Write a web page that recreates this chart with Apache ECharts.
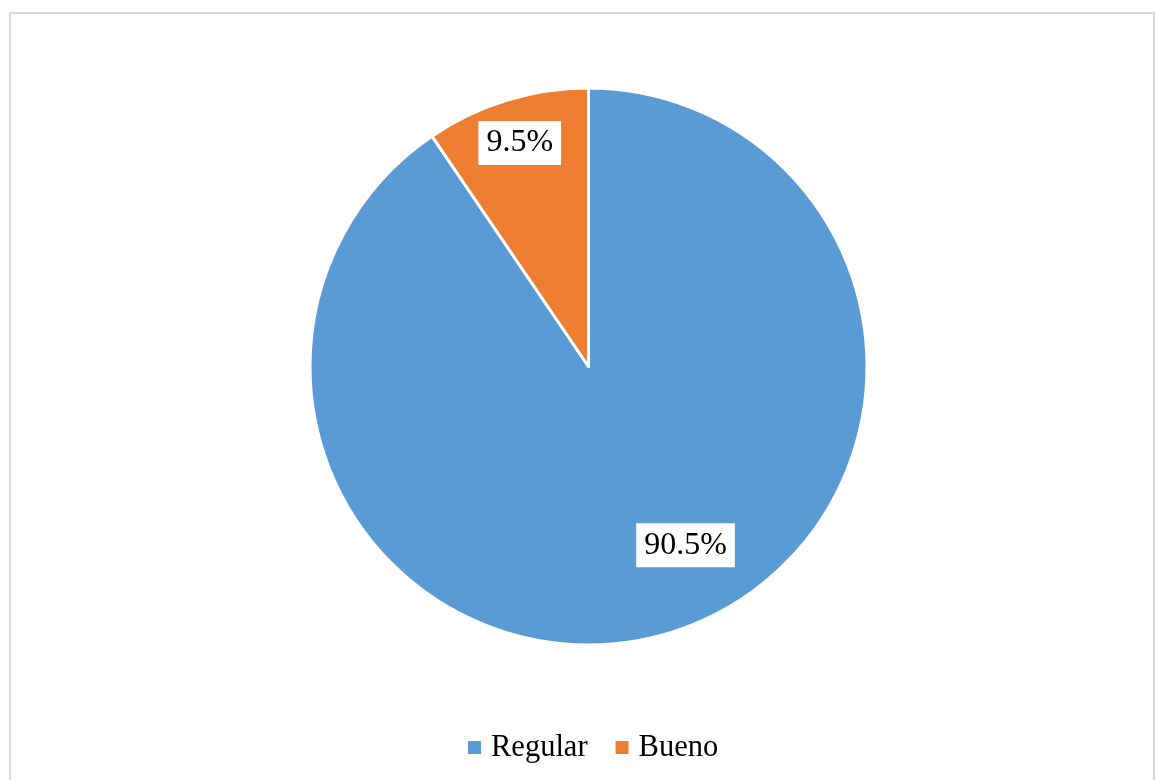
<!DOCTYPE html>
<html>
<head>
<meta charset="utf-8">
<script src="https://cdn.jsdelivr.net/npm/echarts@6/dist/echarts.min.js"></script>
<style>
  html, body { margin: 0; padding: 0; background: #fff; }
  #chart { width: 1155px; height: 780px; }
</style>
</head>
<body>
<div id="chart"></div>
<script>
// datos del grafico
let categories = ['Regular', 'Bueno']
let values = [90.5, 9.5]
let colors = ['#5B9BD5', '#ED7D31']

// posicion de las etiquetas (angulo en grados, fraccion del radio)
let labelPlace = [[-61.5, 0.73], [107.1, 0.84]]

let center = [588.5, 366.5]
let radius = 278.5

let myChart = echarts.init(document.getElementById('chart'))
myChart.setOption({
  animation: false,
  textStyle: { fontFamily: '"Liberation Serif", "Times New Roman", serif' },
  graphic: [{
    type: 'rect',
    shape: { x: 10, y: 13, width: 1144, height: 800 },
    style: { fill: 'none', stroke: '#d9d9d9', lineWidth: 2 },
    silent: true
  }],
  legend: {
    bottom: 12,
    left: 461,
    itemWidth: 15,
    itemHeight: 15,
    itemGap: 26,
    icon: 'rect',
    data: categories,
    textStyle: {
      fontSize: 30.5,
      color: '#000',
      fontFamily: '"Liberation Serif", serif',
      padding: [0, 0, 0, 4]
    }
  },
  series: [{
    type: 'pie',
    center: center,
    radius: radius,
    startAngle: 90,
    clockwise: true,
    itemStyle: { borderColor: '#fff', borderWidth: 3 },
    label: {
      show: true,
      position: 'inside',
      formatter: p => p.value.toFixed(1) + '%',
      fontSize: 32,
      color: '#000',
      fontFamily: '"Liberation Serif", serif',
      backgroundColor: '#fff',
      padding: [7, 8, 5, 8]
    },
    labelLayout: function (params) {
      let lp = labelPlace[params.dataIndex]
      let a = lp[0] * Math.PI / 180
      return {
        x: center[0] + Math.cos(a) * radius * lp[1],
        y: center[1] - Math.sin(a) * radius * lp[1],
        align: 'center',
        verticalAlign: 'middle'
      }
    },
    data: categories.map((c, i) => ({
      name: c,
      value: values[i],
      itemStyle: { color: colors[i] }
    }))
  }]
})
</script>
</body>
</html>
